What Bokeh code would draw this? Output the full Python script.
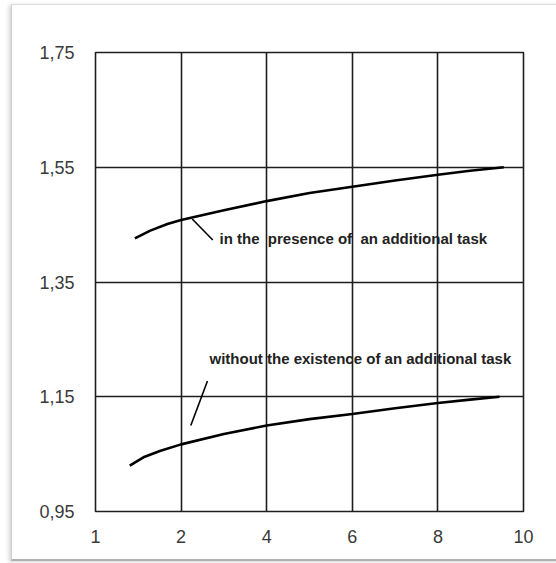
import numpy as np
from bokeh.plotting import figure
from bokeh.models import FixedTicker, Label, Range1d, InlineStyleSheet
from bokeh.embed import file_html
from bokeh.resources import INLINE

# x-axis ticks are evenly spaced although their values are not
x_tick_values = [1, 2, 4, 6, 8, 10]
x_tick_labels = ["1", "2", "4", "6", "8", "10"]
y_tick_values = [0.95, 1.15, 1.35, 1.55, 1.75]
y_tick_labels = ["0,95", "1,15", "1,35", "1,55", "1,75"]

# curve "in the presence of an additional task"
with_task_x = [1.46, 1.64, 1.84, 2.0, 3.0, 4.0, 5.0, 6.0, 7.0, 8.0, 8.75, 9.54]
with_task_y = [1.426, 1.4395, 1.451, 1.458, 1.475, 1.491, 1.505, 1.516, 1.527, 1.537, 1.544, 1.550]

# curve "without the existence of an additional task"
without_task_x = [1.40, 1.56, 1.76, 2.0, 3.0, 4.0, 5.0, 6.0, 7.0, 8.0, 8.75, 9.44]
without_task_y = [1.030, 1.0445, 1.056, 1.067, 1.085, 1.100, 1.111, 1.120, 1.130, 1.139, 1.145, 1.150]

positions = list(range(len(x_tick_values)))


def to_pos(xs):
    """Map x values onto the evenly spaced tick positions."""
    return np.interp(xs, x_tick_values, positions)


# thin page frame (left, top and bottom edges) with a soft shadow
frame_css = InlineStyleSheet(css="""
:host { position: relative; overflow: hidden; }
:host::after {
  content: "";
  position: absolute;
  left: 11px; top: 4px; right: -40px; height: 554px;
  border-left: 1px solid #cfcfcf;
  border-top: 1px solid #dcdcdc;
  border-bottom: 2px solid #b0b0b0;
  border-right: none;
  box-shadow: -2px 1px 4px rgba(0,0,0,0.18);
  pointer-events: none;
}
""")

p = figure(width=556, height=563, output_backend="svg", toolbar_location=None,
           x_range=Range1d(0, 5), y_range=Range1d(0.95, 1.75),
           min_border_left=95, min_border_right=33,
           min_border_top=52, min_border_bottom=52,
           background_fill_color="white", border_fill_color="white",
           stylesheets=[frame_css])

p.outline_line_color = "#1e1e1e"
p.outline_line_width = 1.6

for ax in (p.xaxis[0], p.yaxis[0]):
    ax.axis_line_color = None
    ax.major_tick_line_color = None
    ax.minor_tick_line_color = None
    ax.major_label_text_font = "Liberation Sans"
    ax.major_label_text_font_size = "18px"
    ax.major_label_text_color = "#3a3a3a"

p.xaxis.ticker = FixedTicker(ticks=positions)
p.xaxis.major_label_overrides = {i: lab for i, lab in zip(positions, x_tick_labels)}
p.xaxis.major_label_standoff = 12
p.yaxis.ticker = FixedTicker(ticks=y_tick_values)
p.yaxis.major_label_overrides = {v: lab for v, lab in zip(y_tick_values, y_tick_labels)}
p.yaxis.major_label_standoff = 15

p.xgrid.ticker = FixedTicker(ticks=positions)
p.ygrid.ticker = FixedTicker(ticks=y_tick_values)
for g in (p.xgrid[0], p.ygrid[0]):
    g.grid_line_color = "#1e1e1e"
    g.grid_line_width = 1.6

p.line(to_pos(with_task_x), with_task_y, line_color="black", line_width=2.6)
p.line(to_pos(without_task_x), without_task_y, line_color="black", line_width=2.6)

# leader lines from the captions to their curves
p.segment(x0=[1.13, 1.308], y0=[1.4599, 1.1774], x1=[1.37, 1.113], y1=[1.4233, 1.100],
          line_color="black", line_width=1.6)

caption_style = dict(text_font="Liberation Sans", text_font_size="15px",
                     text_font_style="bold", text_color="#222222",
                     text_baseline="middle", text_align="left")
p.add_layout(Label(x=1.449, y=1.425, text="in the \u00a0presence of \u00a0an additional task",
                   **caption_style))
p.add_layout(Label(x=1.332, y=1.2163, text="without the existence of an additional task",
                   **caption_style))

open("out.html", "w").write(file_html(p, INLINE))
